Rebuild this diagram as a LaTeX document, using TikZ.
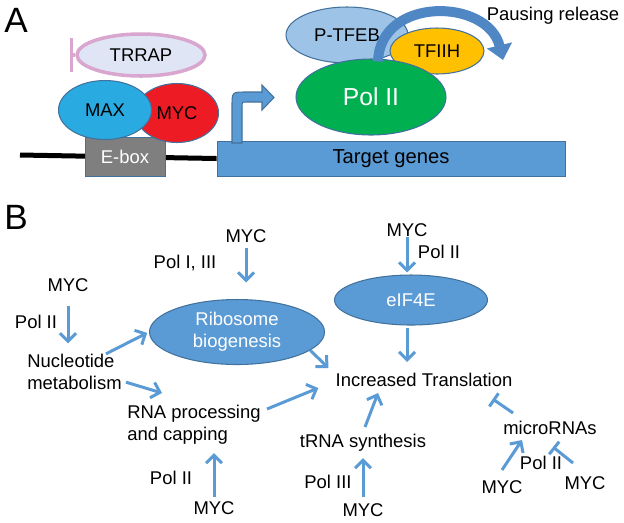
\documentclass[tikz,border=0pt]{standalone}
\usepackage{fontspec}
\setmainfont{Liberation Sans}
\usetikzlibrary{shapes.geometric,arrows.meta,calc}
\definecolor{arrowblue}{HTML}{5B9BD5}
\definecolor{edgeblue}{HTML}{41719C}
\definecolor{pauseblue}{HTML}{4F87C4}
\definecolor{maxblue}{HTML}{29ABE2}
\definecolor{mycred}{HTML}{ED1C24}
\definecolor{trrappink}{HTML}{D9A6CF}
\definecolor{trrapfill}{HTML}{DFE5F4}
\definecolor{ptefbblue}{HTML}{9DC3E6}
\definecolor{polgreen}{HTML}{00B050}
\definecolor{tfiihgold}{HTML}{FFC000}
\definecolor{eboxgray}{HTML}{7F7F7F}

\begin{document}
\begin{tikzpicture}[x=0.02cm, y=-0.02cm,
    every node/.style={font=\fontsize{10.5}{12.6}\selectfont, inner sep=0pt},
    lbl/.style={text height=7.6pt, text depth=0pt},
    blob/.style={ellipse, draw=edgeblue, line width=0.6pt},
    act/.style={draw=arrowblue, line width=0.6mm, -{Straight Barb[length=1.6mm,width=3.2mm]}},
    inh/.style={draw=arrowblue, line width=0.6mm, -{Bar[width=3.2mm]}}]
  \useasboundingbox (0,0) rectangle (624,522);

  % panel A
  \node[font=\fontsize{20}{24}\selectfont] (panA) at (16,20) {A};
  \coordinate (dnaL) at (20,155);
  \node[draw=edgeblue, fill=arrowblue, minimum width=6.96cm, minimum height=0.7cm,
        font=\fontsize{11.5}{14}\selectfont] (genes) at (391,158.5) {Target genes};
  \draw[line width=1mm] (dnaL) -- (genes.west);
  \node[draw=edgeblue, fill=eboxgray, minimum width=1.6cm, minimum height=0.78cm,
        text=white] (ebox) at (125,156.5) {E-box};
  \node[blob, fill=mycred, minimum width=1.66cm, minimum height=1.18cm] (mycA) at (177,113) {MYC};
  \node[blob, fill=maxblue, minimum width=1.86cm, minimum height=1.18cm] (maxA) at (105,110) {MAX};
  \node[ellipse, draw=trrappink, fill=trrapfill, line width=2pt, minimum width=2.56cm,
        minimum height=0.84cm] (trrap) at (141,55) {TRRAP};
  \draw[trrappink, line width=2pt] (trrap.west) -- ++(-4,0) ++(0,-17) -- ++(0,34);

  % bent arrow on the gene
  \draw[fill=arrowblue, draw=edgeblue, line width=0.6pt] (232,143) -- (232,106)
    .. controls (232,92) .. (246,92) -- (262,92) -- (262,85) -- (274,97.5) -- (262,110)
    -- (262,102) -- (247,102) .. controls (242,102) .. (242,107) -- (242,143) -- cycle;

  \node[blob, fill=ptefbblue, minimum width=2.44cm, minimum height=1.12cm] (ptefb) at (347,35) {P-TFEB};
  \node[blob, fill=tfiihgold, minimum width=1.88cm, minimum height=0.92cm] (tfiih) at (437,51) {TFIIH};
  \node[blob, fill=polgreen, minimum width=3cm, minimum height=1.52cm, text=white,
        font=\fontsize{14}{17}\selectfont] (pol) at (371,97) {Pol II};
  \draw[pauseblue, line width=2mm, -{Triangle[length=3mm,width=5mm]}]
    ($(pol.north)+(7,3)$) .. controls (380,-4) and (488,-2) .. (503,60);
  \node (pause) at (553,16) {Pausing release};

  % panel B
  \node[font=\fontsize{20}{24}\selectfont] (panB) at (16,217) {B};
  \node[lbl] (mycNuc) at (68,285) {MYC};
  \node[lbl] (polNuc) at (36,322) {Pol II};
  \node[align=left, anchor=west] (nuc) at (27,372) {Nucleotide\\metabolism};
  \node[blob, fill=arrowblue, text=white, align=center, minimum width=3.5cm,
        minimum height=1.3cm] (ribo) at (237,332) {Ribosome\\biogenesis};
  \node[lbl] (mycRibo) at (246,236) {MYC};
  \node[lbl] (polRibo) at (185,262) {Pol I, III};
  \node[lbl] (mycEif) at (407,230) {MYC};
  \node[lbl] (polEif) at (439,252) {Pol II};
  \node[blob, fill=arrowblue, text=white, minimum width=3.06cm, minimum height=1cm] (eif) at (411,300) {eIF4E};
  \node[lbl] (trans) at (424,380) {Increased Translation};
  \node[align=left, anchor=west] (rna) at (127,425) {RNA processing\\and capping};
  \node[lbl] (polRna) at (171,478) {Pol II};
  \node[lbl] (mycRna) at (214,508) {MYC};
  \node[lbl] (trna) at (363,441) {tRNA synthesis};
  \node[lbl] (polTrna) at (328,482) {Pol III};
  \node[lbl] (mycTrna) at (363,510) {MYC};
  \node[lbl] (mir) at (550,428) {microRNAs};
  \node[lbl] (polMir) at (541,463) {Pol II};
  \node[lbl] (mycMirA) at (502,487) {MYC};
  \node[lbl] (mycMirB) at (585,483) {MYC};

  \draw[act, shorten <=2.8mm, shorten >=2.1mm] (mycNuc.south) -- (mycNuc.south |- nuc.north);
  \draw[act, shorten >=0.4mm] (nuc.30) -- (ribo.west);
  \draw[act] ($(nuc.south east)+(4,-8)$) -- ($(rna.north west)+(35,-12)$);
  \draw[act, shorten <=0.9mm, shorten >=3.3mm] (mycRibo.south) -- (mycRibo.south |- ribo.north);
  \draw[act] ($(rna.north east)+(6,4)$) -- ($(trans.west)+(-17,8)$);
  \draw[act] (ribo.-14) -- ($(trans.west)+(-7,-12)$);
  \draw[act, shorten >=0.4mm] (mycEif.south) -- (mycEif.south |- eif.north);
  \draw[act, shorten <=0.4mm, shorten >=2.2mm] (mycEif.south |- eif.south) -- (mycEif.south |- trans.north);
  \draw[act] ($(trna.north)+(2,-7)$) -- ($(trans.south)+(-46,6)$);
  \draw[act, shorten <=1.2mm, shorten >=2mm] (mycTrna.north) -- (mycTrna.north |- trna.south);
  \draw[act, shorten <=0.8mm, shorten >=1.6mm] (mycRna.north) -- (mycRna.north |- rna.south);
  \draw[inh] ($(mir.north west)+(10,-8)$) -- ($(trans.south east)+(-20,12)$);
  \draw[act] ($(mycMirA.north)+(0,-10)$) -- ($(mir.south west)+(19,5)$);
  \draw[inh] ($(mycMirB.north)+(-12,-13)$) -- ($(mir.south)+(3,12)$);
\end{tikzpicture}
\end{document}
